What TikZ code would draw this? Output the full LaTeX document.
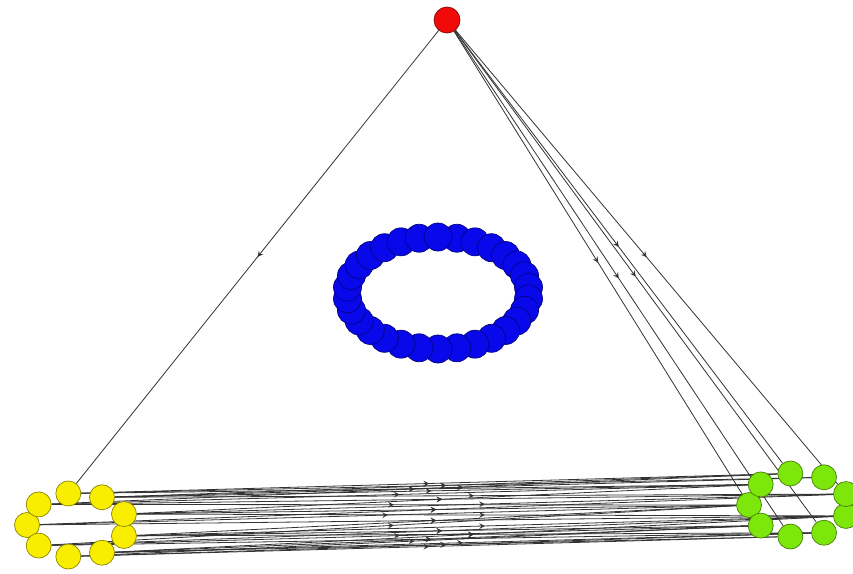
\documentclass[tikz,border=0pt]{standalone}
\usetikzlibrary{decorations.markings}
\definecolor{ringblue}{RGB}{8,8,235}
\definecolor{hubred}{RGB}{240,10,10}
\definecolor{leftyellow}{RGB}{250,238,0}
\definecolor{rightgreen}{RGB}{125,230,10}
\pgfdeclarelayer{edges}
\pgfsetlayers{edges,main}
\tikzset{
  vertex/.style={circle, inner sep=0pt, minimum size=25pt, fill=#1,
    draw=#1!55!black, line width=0.7pt},
  link/.style={draw=black!80, line width=0.8pt, postaction={decorate},
    decoration={markings, mark=at position 0.5 with {\arrow[scale=1.4]{stealth}}}}
}

\begin{document}
\begin{tikzpicture}[x=1pt, y=-1pt]
  \useasboundingbox (0,0) rectangle (853,573);
  % hub
  \node[vertex=hubred, minimum size=26pt] (hub) at (447,20) {};
  % left cluster
  \foreach \k in {0,...,8} {
    \pgfmathsetmacro\a{180+40*\k}
    \node[vertex=leftyellow] (y\k) at ({77+50*cos(\a)},{525-32*sin(\a)}) {};
  }
  % right cluster
  \foreach \k in {0,...,8} {
    \pgfmathsetmacro\a{180+40*\k}
    \node[vertex=rightgreen] (g\k) at ({799+50*cos(\a)},{505-32*sin(\a)}) {};
  }
  % ring in the middle
  \foreach \k in {1,...,30} {
    \pgfmathsetmacro\a{90-12*\k}
    \node[vertex=ringblue, minimum size=28pt] (b\k) at ({438+91*cos(\a)},{293-56*sin(\a)}) {};
  }
  % connectors under the nodes
  \begin{pgfonlayer}{edges}
    \draw[link] (hub) -- (y7);
    \foreach \t in {0,2,3,7,5}
      \draw[link] (hub) -- (g\t);
    \foreach \s/\t in {0/0,1/1,2/2,3/3,4/4,5/5,6/6,7/7,8/8,
                       7/6,6/8,8/5,5/0,0/4,4/1,1/3,3/2,2/1,
                       5/8,4/0,0/5,6/7,8/0,1/4,3/1,2/3,7/8,
                       6/5,5/4,4/3,8/7,3/4,1/0}
      \draw[link] (y\s) -- (g\t);
  \end{pgfonlayer}
\end{tikzpicture}
\end{document}
